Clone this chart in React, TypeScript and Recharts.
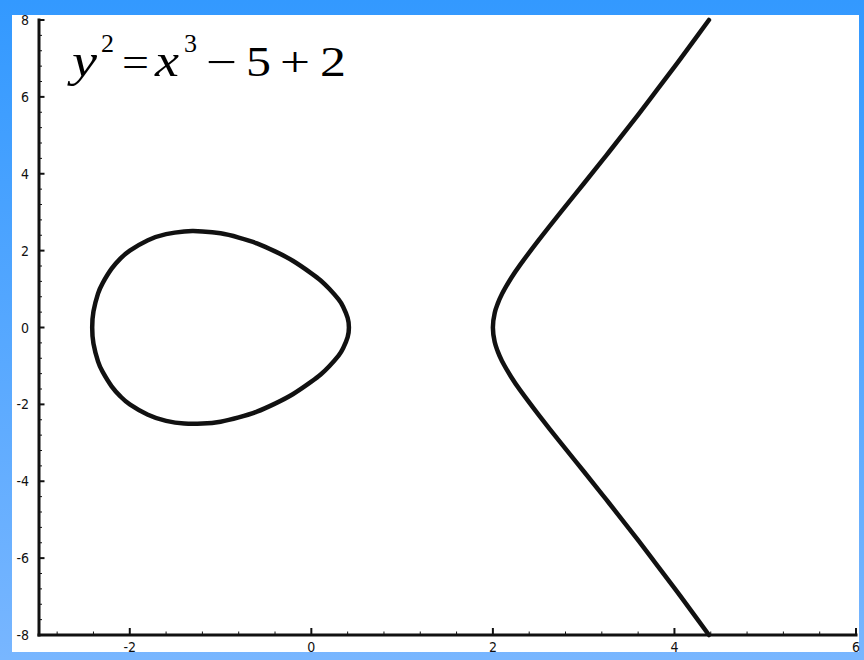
import { LineChart, Line, XAxis, YAxis } from "recharts";

// closed loop, starting at its top and running clockwise
const loopX = [
  -1.3, -1.2, -1.0, -0.8, -0.6, -0.4, -0.2, 0, 0.1, 0.2, 0.3, 0.35, 0.4, 0.414,
  0.4, 0.35, 0.3, 0.2, 0.1, 0, -0.2, -0.4, -0.6, -0.8, -1.0, -1.2, -1.4, -1.6, -1.8, -2.0, -2.1, -2.2, -2.3, -2.35, -2.4, -2.414,
  -2.4, -2.35, -2.3, -2.2, -2.1, -2.0, -1.8, -1.6, -1.4, -1.3,
];
const loopY = [
  2.51, 2.5, 2.45, 2.34, 2.19, 1.98, 1.73, 1.41, 1.23, 1.0, 0.73, 0.54, 0.25, 0,
  -0.25, -0.54, -0.73, -1.0, -1.23, -1.41, -1.73, -1.98, -2.19, -2.34, -2.45, -2.5, -2.5, -2.43, -2.27, -2.0, -1.8, -1.53, -1.15, -0.88, -0.42, 0,
  0.42, 0.88, 1.15, 1.53, 1.8, 2.0, 2.27, 2.43, 2.5, 2.51,
];

// open branch, top end down through the vertex to the bottom end
const branchX = [
  4.38, 4.25, 4.0, 3.75, 3.5, 3.25, 3.0, 2.75, 2.5, 2.3, 2.2, 2.1, 2.05, 2.02, 2.0,
  2.02, 2.05, 2.1, 2.2, 2.3, 2.5, 2.75, 3.0, 3.25, 3.5, 3.75, 4.0, 4.25, 4.38,
];
const branchY = [
  8.0, 7.58, 6.78, 6.0, 5.23, 4.48, 3.74, 3.01, 2.26, 1.63, 1.28, 0.87, 0.6, 0.38, 0,
  -0.38, -0.6, -0.87, -1.28, -1.63, -2.26, -3.01, -3.74, -4.48, -5.23, -6.0, -6.78, -7.58, -8.0,
];

const xLabels = [-2, 0, 2, 4, 6];
const yLabels = [-8, -6, -4, -2, 0, 2, 4, 6, 8];
const MINOR_STEP = 0.4;

const INK = "#111";
const tickFont = {
  fontFamily: "'Liberation Sans Narrow', 'DejaVu Sans Condensed', 'Liberation Sans', sans-serif",
  fontSize: 14,
  fill: "#111",
};
const serif = "'Liberation Serif', 'Times New Roman', serif";

const toPoints = (xs: number[], ys: number[]) => xs.map((x, i) => ({ x, y: ys[i] }));
const loopData = toPoints(loopX, loopY);
const branchData = toPoints(branchX, branchY);

function tickValues(from: number, to: number) {
  const out: number[] = [];
  for (let v = from; v <= to + 1e-9; v += MINOR_STEP) out.push(Math.round(v * 10) / 10);
  return out;
}
const xTicks = tickValues(-2.8, 6);
const yTicks = tickValues(-8, 8);

function XTick({ x, y, payload }: any) {
  const major = xLabels.includes(payload.value);
  return (
    <g>
      <line x1={x} x2={x} y1={y} y2={y - (major ? 7 : 3.5)} stroke={INK} strokeWidth={major ? 2 : 1} />
      {major && (
        <text x={x} y={y + 17} textAnchor="middle" style={tickFont}>
          {payload.value}
        </text>
      )}
    </g>
  );
}

function YTick({ x, y, payload }: any) {
  const major = yLabels.includes(payload.value);
  return (
    <g>
      <line x1={x} x2={x + (major ? 5.5 : 3)} y1={y} y2={y} stroke={INK} strokeWidth={major ? 2 : 1} />
      {major && (
        <text x={x - 10} y={y} dy="0.36em" textAnchor="end" style={tickFont}>
          {payload.value}
        </text>
      )}
    </g>
  );
}

// one glyph of the equation, stretched to a set advance width
function Glyph({ x, y, size, w, italic, children }: any) {
  return (
    <text
      x={x}
      y={y}
      fontSize={size}
      fontStyle={italic ? "italic" : "normal"}
      textLength={w}
      lengthAdjust="spacingAndGlyphs"
    >
      {children}
    </text>
  );
}

export default function App() {
  return (
    <div
      style={{
        position: "absolute",
        left: 0,
        top: 0,
        width: 864,
        height: 660,
        background: "linear-gradient(#3399ff, #78b6ff)",
      }}
    >
      <div style={{ position: "absolute", left: 12, top: 15, width: 847, height: 637, background: "#fff" }} />
      <div style={{ position: "absolute", left: 0, top: 0 }}>
        <LineChart width={864} height={660} margin={{ top: 20, right: 8, bottom: 0, left: 9 }}>
          <XAxis
            type="number"
            dataKey="x"
            domain={[-3, 6]}
            ticks={xTicks}
            interval={0}
            height={25}
            tickSize={0}
            tickMargin={0}
            tickLine={false}
            tick={<XTick />}
            axisLine={{ stroke: INK, strokeWidth: 3, strokeLinecap: "square" }}
          />
          <YAxis
            type="number"
            dataKey="y"
            domain={[-8, 8]}
            ticks={yTicks}
            interval={0}
            width={30}
            tickSize={0}
            tickMargin={0}
            tickLine={false}
            tick={<YTick />}
            axisLine={{ stroke: INK, strokeWidth: 3, strokeLinecap: "square" }}
          />
          <Line
            data={loopData}
            dataKey="y"
            type="natural"
            dot={false}
            stroke={INK}
            strokeWidth={4.5}
            strokeLinecap="round"
            isAnimationActive={false}
          />
          <Line
            data={branchData}
            dataKey="y"
            type="natural"
            dot={false}
            stroke={INK}
            strokeWidth={4.5}
            strokeLinecap="round"
            isAnimationActive={false}
          />
        </LineChart>
      </div>
      <svg width={400} height={110} style={{ position: "absolute", left: 0, top: 0 }}>
        <g style={{ fontFamily: serif, fill: "#000" }}>
          <Glyph x={72} y={76} size={46} w={25} italic>y</Glyph>
          <Glyph x={101} y={52} size={25} w={13}>2</Glyph>
          <Glyph x={122} y={76} size={42} w={27}>=</Glyph>
          <Glyph x={155} y={76} size={46} w={24} italic>x</Glyph>
          <Glyph x={184} y={52} size={25} w={13}>3</Glyph>
          <Glyph x={206} y={76} size={42} w={31}>−</Glyph>
          <Glyph x={246} y={76} size={42} w={25}>5</Glyph>
          <Glyph x={280} y={76} size={42} w={30}>+</Glyph>
          <Glyph x={320} y={76} size={42} w={26}>2</Glyph>
        </g>
      </svg>
    </div>
  );
}
